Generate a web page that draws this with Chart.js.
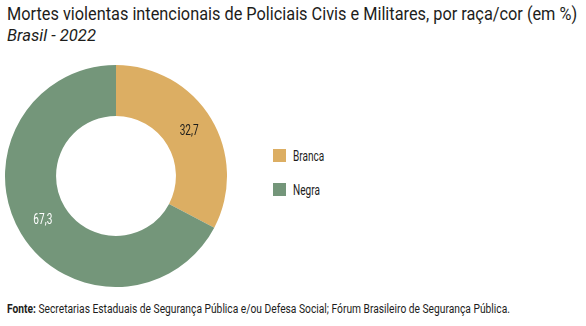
<!DOCTYPE html>
<html lang="pt-BR">
<head>
<meta charset="utf-8">
<script src="https://cdn.jsdelivr.net/npm/chart.js@4"></script>
<style>
  body { margin: 0; width: 586px; height: 326px; background: #fff; font-family: Roboto, sans-serif; color: #1d1d1b; position: relative; overflow: hidden; }
  .fit { position: absolute; left: 7px; white-space: nowrap; transform-origin: 0 0; }
  #titulo { top: 2px; font-size: 19px; }
  #subtitulo { top: 25px; font-size: 17px; font-style: italic; }
  #fonte { top: 302px; font-size: 12px; }
  #fonte b { font-weight: 700; }
  #grafico { position: absolute; left: 5px; top: 65px; width: 222px; height: 222px; }
  #legenda { position: absolute; left: 273px; top: 149px; }
  .item { display: flex; align-items: center; height: 13px; margin-bottom: 21px; font-size: 14px; }
  .box { width: 13px; height: 13px; margin-right: 7px; flex: none; }
  .item span { display: inline-block; transform: scaleX(0.72); transform-origin: 0 50%; }
</style>
</head>
<body>
<div id="titulo" class="fit" data-w="570">Mortes violentas intencionais de Policiais Civis e Militares, por raça/cor (em %)</div>
<div id="subtitulo" class="fit" data-w="89">Brasil - 2022</div>
<div id="grafico"><canvas id="racaChart"></canvas></div>
<div id="legenda"></div>
<div id="fonte" class="fit" data-w="503"><b>Fonte:</b> Secretarias Estaduais de Segurança Pública e/ou Defesa Social; Fórum Brasileiro de Segurança Pública.</div>

<script>
const categorias = ['Branca', 'Negra'];
const valores = [32.7, 67.3];
const cores = ['#dcae63', '#74967a'];
const coresRotulo = ['#1d1d1b', '#ffffff'];

const formatar = v => v.toFixed(1).replace('.', ',');

// textos em fonte condensada: comprime na horizontal até a largura desejada
document.querySelectorAll('.fit').forEach(el => {
  const alvo = Number(el.dataset.w);
  el.style.transform = `scaleX(${alvo / el.scrollWidth})`;
});

// legenda
const legenda = document.getElementById('legenda');
categorias.forEach((nome, i) => {
  const item = document.createElement('div');
  item.className = 'item';
  item.innerHTML = `<div class="box" style="background:${cores[i]}"></div><span>${nome}</span>`;
  legenda.appendChild(item);
});

// rótulos de valor no meio de cada fatia
const rotulos = {
  id: 'rotulos',
  afterDatasetsDraw(chart) {
    const ctx = chart.ctx;
    const meta = chart.getDatasetMeta(0);
    ctx.save();
    ctx.font = '14px Roboto';
    ctx.textAlign = 'center';
    ctx.textBaseline = 'middle';
    meta.data.forEach((arc, i) => {
      const p = arc.tooltipPosition();
      ctx.save();
      ctx.translate(p.x, p.y);
      ctx.scale(0.72, 1);
      ctx.fillStyle = coresRotulo[i];
      ctx.fillText(formatar(valores[i]), 0, 0);
      ctx.restore();
    });
    ctx.restore();
  }
};

new Chart(document.getElementById('racaChart'), {
  type: 'doughnut',
  data: {
    labels: categorias,
    datasets: [{
      data: valores,
      backgroundColor: cores,
      borderWidth: 0
    }]
  },
  options: {
    responsive: true,
    maintainAspectRatio: false,
    animation: false,
    cutout: '54%',
    layout: { padding: 0 },
    plugins: {
      legend: { display: false },
      tooltip: { enabled: false }
    }
  },
  plugins: [rotulos]
});
</script>
</body>
</html>
